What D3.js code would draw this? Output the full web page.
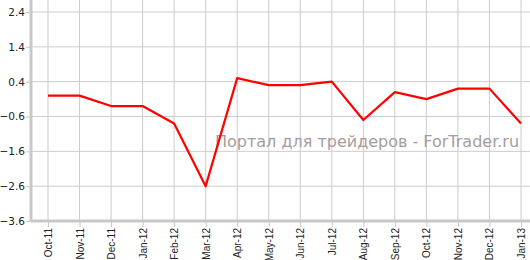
<!DOCTYPE html>
<html>
<head>
<meta charset="utf-8">
<script src="https://cdn.jsdelivr.net/npm/d3@7"></script>
<style>
  body { margin: 0; background: #fff; }
  svg { display: block; font-family: "DejaVu Sans", Verdana, sans-serif; }
</style>
</head>
<body>
<div id="chart"></div>
<script>
const months = ["Oct-11", "Nov-11", "Dec-11", "Jan-12", "Feb-12", "Mar-12", "Apr-12", "May-12",
  "Jun-12", "Jul-12", "Aug-12", "Sep-12", "Oct-12", "Nov-12", "Dec-12", "Jan-13"];
const values = [0.0, 0.0, -0.3, -0.3, -0.8, -2.6, 0.5, 0.3, 0.3, 0.4, -0.7, 0.1, -0.1, 0.2, 0.2, -0.8];
const yTicks = [-3.6, -2.6, -1.6, -0.6, 0.4, 1.4, 2.4];
const watermark = "Портал для трейдеров - ForTrader.ru";

const width = 530;
const height = 260;
const left = 31;
const bottom = 221;

const svg = d3.select("#chart").append("svg")
  .attr("width", width)
  .attr("height", height);

const x = d3.scalePoint().domain(months).range([48, 521]);
const y = d3.scaleLinear().domain([-3.6, 2.4]).range([bottom, 12]);

// grid
svg.append("g")
  .selectAll("line")
  .data(yTicks)
  .join("line")
  .attr("x1", left).attr("x2", width)
  .attr("y1", d => y(d)).attr("y2", d => y(d))
  .attr("stroke", "#cccccc");

svg.append("g")
  .selectAll("line")
  .data(months)
  .join("line")
  .attr("x1", d => x(d)).attr("x2", d => x(d))
  .attr("y1", 0).attr("y2", bottom)
  .attr("stroke", "#cccccc");

// watermark
svg.append("text")
  .attr("x", 215)
  .attr("y", 147)
  .attr("font-size", 16)
  .attr("fill", "#a59d9d")
  .text(watermark);

// axes
const gy = svg.append("g")
  .attr("transform", `translate(${left},0)`)
  .call(d3.axisLeft(y).tickValues(yTicks).tickSize(5).tickPadding(1).tickFormat(d3.format(".1f")));
gy.select(".domain").attr("stroke", "#c8c8c8").attr("stroke-width", 3)
  .attr("d", `M0,0V${bottom}`);
gy.selectAll(".tick line").attr("stroke", "#c8c8c8");
gy.selectAll(".tick text").attr("font-size", 10.5).attr("fill", "#222")
  .attr("font-family", "DejaVu Sans, sans-serif");

const gx = svg.append("g")
  .attr("transform", `translate(0,${bottom})`)
  .call(d3.axisBottom(x).tickSize(6));
gx.select(".domain").attr("stroke", "#c8c8c8").attr("stroke-width", 3)
  .attr("d", `M${left},0H${width}`);
gx.selectAll(".tick line").attr("stroke", "#c8c8c8");
gx.selectAll(".tick text")
  .attr("font-size", 10).attr("fill", "#222")
  .attr("font-family", "Liberation Sans, Arial, sans-serif")
  .attr("text-anchor", "end")
  .attr("transform", "rotate(-90)")
  .attr("x", -7)
  .attr("y", 0)
  .attr("dy", "0.35em");

// line
const line = d3.line()
  .x((d, i) => x(months[i]))
  .y(d => y(d));

svg.append("path")
  .datum(values)
  .attr("fill", "none")
  .attr("stroke", "#ff0000")
  .attr("stroke-width", 2.2)
  .attr("stroke-linejoin", "round")
  .attr("d", line);
</script>
</body>
</html>
